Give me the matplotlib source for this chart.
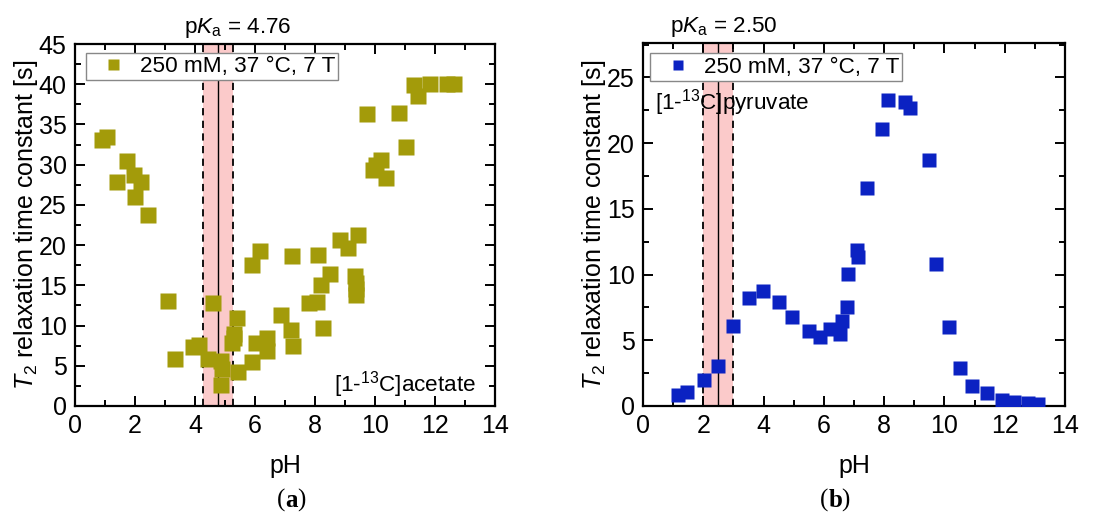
import matplotlib
matplotlib.use("Agg")
import matplotlib.pyplot as plt
from matplotlib.ticker import MultipleLocator

plt.rcParams["font.family"] = ["Liberation Sans", "DejaVu Sans"]
plt.rcParams["mathtext.fontset"] = "custom"
plt.rcParams["mathtext.rm"] = "Liberation Sans"
plt.rcParams["mathtext.it"] = "Liberation Sans:italic"

# (a) [1-13C]acetate
ph_ace = [0.89, 1.06, 1.41, 1.74, 1.98, 2.0, 2.21, 2.44, 3.11, 3.33, 3.92, 4.14,
          4.44, 4.59, 4.87, 4.91, 4.87, 5.24, 5.31, 5.3, 5.41, 5.44, 5.91, 5.91,
          6.03, 6.17, 6.39, 6.41, 6.87, 7.19, 7.28, 7.24, 7.81, 8.06, 8.11, 8.19,
          8.28, 8.5, 8.83, 9.09, 9.42, 9.33, 9.38, 9.37, 9.36, 9.72, 9.94, 10.02,
          10.2, 10.37, 10.8, 11.02, 11.3, 11.45, 11.83, 12.39, 12.63]
t2_ace = [33.1, 33.5, 27.9, 30.5, 28.7, 26.0, 27.8, 23.8, 13.1, 5.9, 7.3, 7.6,
          5.9, 12.8, 5.6, 4.6, 2.6, 7.8, 9.0, 8.5, 11.0, 4.2, 17.5, 5.5,
          7.8, 19.3, 8.4, 6.8, 11.3, 9.4, 7.5, 18.7, 12.8, 12.9, 18.8, 15.0,
          9.7, 16.4, 20.6, 19.6, 21.3, 16.1, 15.3, 14.6, 13.8, 36.3, 29.3, 30.0,
          30.6, 28.4, 36.4, 32.2, 39.9, 38.5, 40.0, 40.0, 40.0]

# (b) [1-13C]pyruvate
ph_pyr = [1.17, 1.45, 2.02, 2.5, 2.98, 3.52, 3.99, 4.52, 4.95, 5.51, 5.87, 6.2,
          6.54, 6.59, 6.78, 6.81, 7.11, 7.14, 7.44, 7.92, 8.14, 8.69, 8.86, 9.49,
          9.72, 10.16, 10.52, 10.93, 11.42, 11.9, 12.32, 12.76, 13.1]
t2_pyr = [0.83, 1.04, 1.98, 3.04, 6.08, 8.18, 8.76, 7.88, 6.79, 5.72, 5.27, 5.83,
          5.45, 6.48, 7.5, 10.03, 11.9, 11.35, 16.6, 21.1, 23.3, 23.1, 22.7, 18.7,
          10.77, 5.98, 2.86, 1.54, 0.96, 0.46, 0.28, 0.2, 0.13]

pka_ace, pka_pyr = 4.76, 2.50
olive, blue = "#a39b0a", "#0b22c2"
legend_text = "250 mM, 37 °C, 7 T"
ylabel = r"$T_2$ relaxation time constant [s]"

FS = 16.2      # in-plot text
FS_AX = 18     # ticks and axis labels

fig = plt.figure(figsize=(11.13, 5.13), dpi=100)
ax1 = fig.add_axes([0.0674, 0.2086, 0.3773, 0.7056])
ax2 = fig.add_axes([0.5777, 0.2086, 0.3792, 0.7070])


def band(ax, pka, ytop, label_dx):
    ax.axvspan(pka - 0.5, pka + 0.5, color="#fbcaca", lw=0, zorder=0)
    ax.axvline(pka, color="black", lw=1.0, zorder=1)
    for x in (pka - 0.5, pka + 0.5):
        ax.axvline(x, color="black", lw=1.3, ls=(0, (4, 3)), zorder=1)
    ax.text(pka + label_dx, ytop * 1.012, rf"p$K_\mathrm{{a}}$ = {pka:.2f}",
            ha="center", va="bottom", fontsize=FS)


def style(ax, ymax):
    ax.set_xlim(0, 14)
    ax.set_ylim(0, ymax)
    ax.xaxis.set_major_locator(MultipleLocator(2))
    ax.xaxis.set_minor_locator(MultipleLocator(1))
    ax.yaxis.set_major_locator(MultipleLocator(5))
    ax.yaxis.set_minor_locator(MultipleLocator(2.5))
    ax.tick_params(which="both", direction="in", top=True, right=True,
                   labelsize=FS_AX, width=1.4)
    ax.tick_params(which="major", length=7, pad=6)
    ax.tick_params(which="minor", length=4)
    for sp in ax.spines.values():
        sp.set_linewidth(1.6)
    ax.set_xlabel("pH", fontsize=FS_AX, labelpad=11)
    ax.set_ylabel(ylabel, fontsize=FS_AX, labelpad=-1)


style(ax1, 45)
band(ax1, pka_ace, 45, 0.65)
ax1.plot(ph_ace, t2_ace, ls="none", marker="s", ms=11, color=olive,
         mec="none", label=legend_text, zorder=3)
ax1.text(13.35, 1.75, r"[1-$^{13}$C]acetate", ha="right", va="baseline",
         fontsize=FS)

style(ax2, 27.6)
band(ax2, pka_pyr, 27.6, 0.17)
ax2.plot(ph_pyr, t2_pyr, ls="none", marker="s", ms=10, color=blue,
         mec="none", label=legend_text, zorder=3)
ax2.text(0.39, 22.6, r"[1-$^{13}$C]pyruvate", ha="left", va="baseline",
         fontsize=FS)

for ax, anchor in ((ax1, (0.026, 0.975)), (ax2, (0.017, 0.972))):
    leg = ax.legend(loc="upper left", fontsize=FS, markerscale=0.72,
                    handlelength=2.16, handletextpad=0.09, borderpad=0.14,
                    borderaxespad=0, fancybox=False, edgecolor="#888888",
                    framealpha=1, bbox_to_anchor=anchor)
    leg.get_frame().set_linewidth(1.0)

for xc, letter in ((0.2565, "a"), (0.7445, "b")):
    fig.text(xc, 0.012, "(", fontsize=18, family="Liberation Serif", ha="right")
    fig.text(xc, 0.012, letter, fontsize=18, family="Liberation Serif",
             weight="bold", ha="left")
    fig.text(xc + (0.0105 if letter == "a" else 0.0115), 0.012, ")",
             fontsize=18, family="Liberation Serif")

fig.savefig("out.png", dpi=100)
